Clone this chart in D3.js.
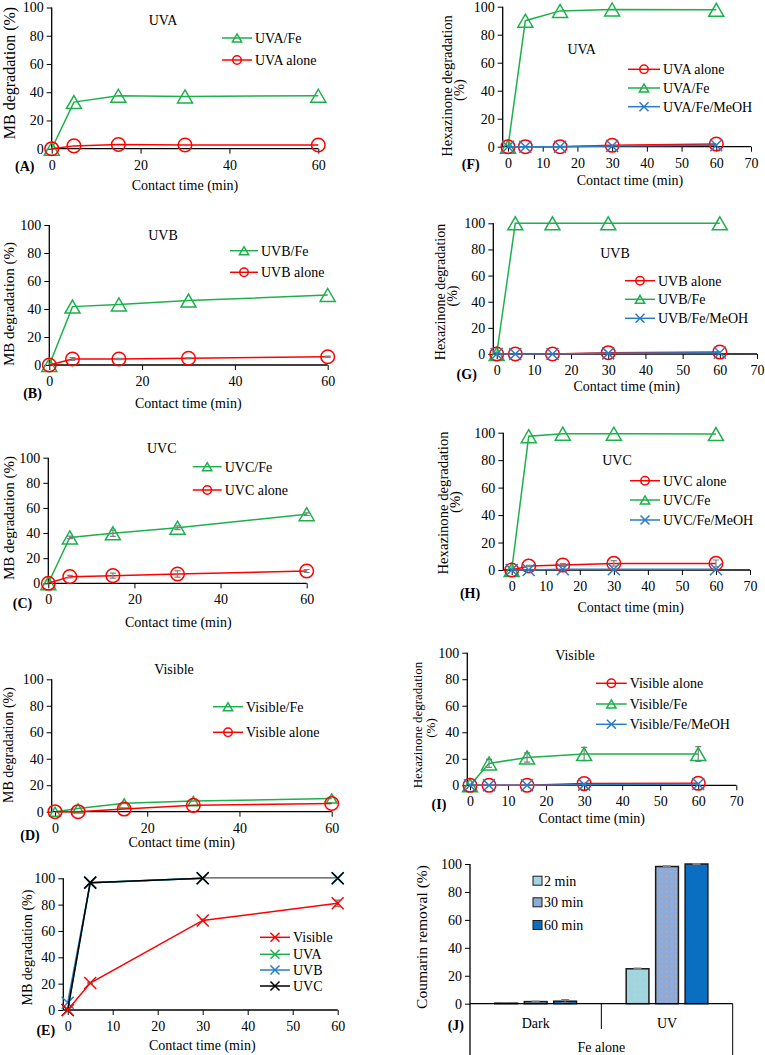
<!DOCTYPE html>
<html><head><meta charset="utf-8">
<script src="https://cdn.jsdelivr.net/npm/d3@7"></script>
<style>
body{margin:0;background:#fff}
svg{display:block}
text{font-family:"Liberation Serif","Times New Roman",serif;fill:#000}
</style>
</head><body>
<svg id="c" width="765" height="1055"></svg>
<script>
// ---------------- DATA ----------------
const timesMB = [0, 5, 15, 30, 60];
const timesHex = [0, 5, 15, 30, 60];
const timesE = [0, 5, 30, 60];
const yTickVals = [0, 20, 40, 60, 80, 100];
const xTicks60 = [0, 20, 40, 60];
const xTicks70 = [0, 10, 20, 30, 40, 50, 60, 70];
const xTicksE = [0, 10, 20, 30, 40, 50, 60];

// (A) MB, UVA
const A_uvaFe = [0, 33, 37.5, 37, 37.5];
const A_uvaAlone = [0, 2, 3, 2.6, 2.6];
// (B) MB, UVB
const B_uvbFe = [0, 41.7, 43.3, 46, 50];
const B_uvbAlone = [0, 4.3, 4.3, 4.8, 5.9];
const B_uvbAloneErr = [0, 1, 0.5, 0.5, 0.5];
// (C) MB, UVC
const C_uvcFe = [0, 36.5, 39.8, 44.3, 55];
const C_uvcFeErr = [0, 1, 2.5, 1.5, 1];
const C_uvcAlone = [0, 5.3, 6.1, 7.4, 9.8];
const C_uvcAloneErr = [0, 1, 2, 2.5, 1.2];
// (D) MB, Visible
const D_visFe = [0, 2.5, 6.3, 8, 10];
const D_visAlone = [0, 0, 2, 4.8, 6.2];
// (E) MB, photocatalysis under light types
const E_visible = [0, 20.5, 68, 81];
const E_visibleErr = [0, 0.5, 1, 2.5];
const E_uva = [0, 96.7, 100, 100];
const E_uvb = [5.5, 96.7, 100, 100];
const E_uvc = [0, 96.7, 100, 100];
// (F) Hexazinone, UVA
const F_alone = [0, 0, 0, 1, 1.9];
const F_fe = [0, 90, 97, 98, 97.8];
const F_meoh = [0, 0, 0, 0.5, 1];
// (G) Hexazinone, UVB
const G_alone = [0, 0, 0, 1, 1.5];
const G_fe = [0, 100, 100, 100, 100];
const G_meoh = [0, 0, 0, 0.5, 1];
// (H) Hexazinone, UVC
const H_alone = [0, 2.9, 3.6, 4.8, 4.8];
const H_aloneErr = [0, 0.5, 1, 2, 2.5];
const H_fe = [0, 97.5, 99.3, 99.3, 99];
const H_meoh = [0, 0, 0.5, 0.5, 0.5];
// (I) Hexazinone, Visible
const I_alone = [0, 0, 0, 1.3, 1.5];
const I_fe = [0, 16.5, 21, 23.6, 23.6];
const I_feErr = [0, 3, 3.5, 5, 5.5];
const I_meoh = [0, 0, 0, 0.5, 1];
// (J) Coumarin removal, Fe alone
const J_groups = ["Dark", "UV"];
const J_series = ["2 min", "30 min", "60 min"];
const J_dark = [0.4, 1.5, 1.8];
const J_darkErr = [0.2, 0.3, 1.2];
const J_uv = [25, 98.2, 100];
const J_uvErr = [0.5, 0.4, 0.2];

// ---------------- STYLE ----------------
const GREEN = "#1db04c", RED = "#ff0000", BLUE = "#2a7cc4", BLACK = "#000", ERR = "#808080";
const FONT = "'Liberation Serif','Times New Roman',serif";

const svg = d3.select("#c");
const defs = svg.append("defs");
const p30 = defs.append("pattern").attr("id", "dots30").attr("width", 5).attr("height", 5).attr("patternUnits", "userSpaceOnUse");
p30.append("rect").attr("width", 5).attr("height", 5).attr("fill", "#8faad6");
p30.append("circle").attr("cx", 1.5).attr("cy", 1.5).attr("r", 0.55).attr("fill", "#c8b48a");
const p2 = defs.append("pattern").attr("id", "dots2").attr("width", 6).attr("height", 6).attr("patternUnits", "userSpaceOnUse");
p2.append("rect").attr("width", 6).attr("height", 6).attr("fill", "#a2d5e0");
p2.append("circle").attr("cx", 2).attr("cy", 2).attr("r", 0.5).attr("fill", "#8ccf9a");

function drawMarker(g, type, cx, cy, s, color) {
  if (type === "tri") {
    const w = 15 * s, h = 13 * s;
    g.append("path").attr("d", `M${cx},${cy - h / 2}L${cx + w / 2},${cy + h / 2}L${cx - w / 2},${cy + h / 2}Z`)
      .attr("fill", "none").attr("stroke", color).attr("stroke-width", 1.5);
  } else if (type === "circ") {
    g.append("circle").attr("cx", cx).attr("cy", cy).attr("r", 6.8 * s)
      .attr("fill", "none").attr("stroke", color).attr("stroke-width", 1.5);
  } else {
    const a = 6 * s;
    g.append("path").attr("d", `M${cx - a},${cy - a}L${cx + a},${cy + a}M${cx - a},${cy + a}L${cx + a},${cy - a}`)
      .attr("fill", "none").attr("stroke", color).attr("stroke-width", 1.5);
  }
}

function addText(txt, x, y, opts = {}) {
  const t = svg.append("text").attr("x", x).attr("y", y).attr("dy", "0.35em")
    .attr("text-anchor", opts.anchor || "middle").attr("font-size", opts.size || 14)
    .text(txt);
  if (opts.bold) t.attr("font-weight", "bold");
  return t;
}
function addVText(txt, cx, cy, size) {
  svg.append("text").attr("transform", `translate(${cx},${cy}) rotate(-90)`).attr("dy", "0.35em")
    .attr("text-anchor", "middle").attr("font-size", size).text(txt);
}

function styleAxis(ax) {
  ax.attr("font-family", FONT).attr("font-size", 14);
  ax.select(".domain").remove();
  ax.selectAll(".tick line").attr("stroke", "#000").attr("stroke-width", 1);
  ax.selectAll(".tick text").attr("fill", "#000");
}

function linePanel(p) {
  const g = svg.append("g");
  const x = d3.scaleLinear().domain([0, p.xMax]).range([p.x0, p.x1]);
  const y = d3.scaleLinear().domain([0, 100]).range([p.yBot, p.yTop]);
  const xa = g.append("g").attr("transform", `translate(0,${y(0)})`)
    .call(d3.axisBottom(x).tickValues(p.xTicks).tickSize(5).tickSizeOuter(0).tickPadding(6).tickFormat(d3.format("d")));
  styleAxis(xa);
  const ya = g.append("g").attr("transform", `translate(${p.axisX},0)`)
    .call(d3.axisLeft(y).tickValues(yTickVals).tickSize(5).tickSizeOuter(0).tickPadding(3));
  styleAxis(ya);
  g.append("line").attr("x1", p.axisX).attr("x2", p.axisX).attr("y1", y(0)).attr("y2", y(100)).attr("stroke", "#000").attr("stroke-width", 1.3);
  g.append("line").attr("x1", p.axisX).attr("x2", p.x1).attr("y1", y(0)).attr("y2", y(0)).attr("stroke", "#000").attr("stroke-width", 1.3);

  const order = p.drawOrder || p.series.map((d, i) => i);
  order.forEach(si => {
    const s = p.series[si];
    const idx = s.vals.map((d, i) => i);
    const line = d3.line().x(i => x(p.times[i])).y(i => y(s.vals[i]));
    g.append("path").attr("d", line(idx)).attr("fill", "none").attr("stroke", s.color).attr("stroke-width", 1.5);
    if (s.tailColor) {
      const n = idx.length;
      g.append("path").attr("d", line(idx.slice(n - 2))).attr("fill", "none").attr("stroke", s.tailColor).attr("stroke-width", 1.5);
    }
    if (s.err) {
      idx.forEach(i => {
        const e = s.err[i];
        if (!e) return;
        const cx = x(p.times[i]);
        g.append("path").attr("d", `M${cx},${y(s.vals[i] - e)}V${y(s.vals[i] + e)}M${cx - 3},${y(s.vals[i] - e)}H${cx + 3}M${cx - 3},${y(s.vals[i] + e)}H${cx + 3}`)
          .attr("stroke", ERR).attr("stroke-width", 1.2).attr("fill", "none");
      });
    }
    idx.forEach(i => drawMarker(g, s.marker, x(p.times[i]), y(s.vals[i]), s.size || 1, s.color));
  });

  // legend
  p.series.forEach((s, i) => {
    const ly = p.legY[i];
    g.append("line").attr("x1", p.legX1).attr("x2", p.legX2).attr("y1", ly).attr("y2", ly).attr("stroke", s.color).attr("stroke-width", 1.5);
    drawMarker(g, s.marker, (p.legX1 + p.legX2) / 2, ly, s.marker === "x" ? 0.75 : 0.62, s.color);
    addText(s.name, p.legX2 + 3, ly, { anchor: "start" });
  });

  if (p.title) addText(p.title[0], p.title[1], p.title[2]);
  addText(p.letter[0], p.letter[1], p.letter[2], { bold: true });
  addText("Contact time (min)", p.xlab[0], p.xlab[1]);
  p.ylab.forEach(l => addVText(l[0], l[1], l[2], l[3]));
}

// ---------------- PANELS ----------------
const mbLab = "MB degradation (%)";
linePanel({
  times: timesMB, xMax: 60, xTicks: xTicks60, axisX: 51.7, x0: 51.7, x1: 318.3, yTop: 7.5, yBot: 148.7,
  series: [
    { name: "UVA/Fe", vals: A_uvaFe, marker: "tri", color: GREEN },
    { name: "UVA alone", vals: A_uvaAlone, marker: "circ", color: RED }
  ],
  legX1: 222, legX2: 252, legY: [38, 60],
  title: ["UVA", 163, 20], letter: ["(A)", 24.7, 166], xlab: [185, 185],
  ylab: [[mbLab, 9, 73, 16]]
});
linePanel({
  times: timesMB, xMax: 60, xTicks: xTicks60, axisX: 49.3, x0: 49.3, x1: 327.7, yTop: 225, yBot: 365,
  series: [
    { name: "UVB/Fe", vals: B_uvbFe, marker: "tri", color: GREEN },
    { name: "UVB alone", vals: B_uvbAlone, err: B_uvbAloneErr, marker: "circ", color: RED }
  ],
  legX1: 230, legX2: 258, legY: [250.7, 272.3],
  title: ["UVB", 163, 235], letter: ["(B)", 32.5, 392.7], xlab: [188.3, 402.7],
  ylab: [[mbLab, 9, 304, 15]]
});
linePanel({
  times: timesMB, xMax: 60, xTicks: xTicks60, axisX: 48.3, x0: 48.3, x1: 306.7, yTop: 457.7, yBot: 583.3,
  series: [
    { name: "UVC/Fe", vals: C_uvcFe, err: C_uvcFeErr, marker: "tri", color: GREEN },
    { name: "UVC alone", vals: C_uvcAlone, err: C_uvcAloneErr, marker: "circ", color: RED }
  ],
  legX1: 192.7, legX2: 221.7, legY: [466.7, 490],
  title: ["UVC", 161.7, 448.3], letter: ["(C)", 22.5, 603.3], xlab: [178.3, 621.7],
  ylab: [[mbLab, 8.5, 518, 15]]
});
linePanel({
  times: timesMB, xMax: 60, xTicks: xTicks60, axisX: 51.7, x0: 55, x1: 331.7, yTop: 679.3, yBot: 811.7,
  series: [
    { name: "Visible/Fe", vals: D_visFe, marker: "tri", color: GREEN, size: 0.7 },
    { name: "Visible alone", vals: D_visAlone, marker: "circ", color: RED }
  ],
  legX1: 213, legX2: 243, legY: [706.7, 732.3],
  title: ["Visible", 174, 669.3], letter: ["(D)", 30, 835], xlab: [181.7, 841.7],
  ylab: [[mbLab, 8.5, 745, 14]]
});
linePanel({
  times: timesE, xMax: 60, xTicks: xTicksE, axisX: 63.3, x0: 67.7, x1: 337.7, yTop: 878.3, yBot: 1010,
  series: [
    { name: "Visible", vals: E_visible, err: E_visibleErr, marker: "x", color: RED },
    { name: "UVA", vals: E_uva, marker: "x", color: GREEN, size: 0.6 },
    { name: "UVB", vals: E_uvb, marker: "x", color: BLUE },
    { name: "UVC", vals: E_uvc, marker: "x", color: BLACK, tailColor: "#a6a6a6" }
  ],
  drawOrder: [1, 2, 3, 0],
  legX1: 260, legX2: 290, legY: [937.3, 954.3, 970, 986],
  title: null, letter: ["(E)", 45.8, 1030], xlab: [202.3, 1045],
  ylab: [[mbLab, 26.7, 947.5, 14]]
});

const hexLab = "Hexazinone degradation";
linePanel({
  times: timesHex, xMax: 70, xTicks: xTicks70, axisX: 502.7, x0: 508, x1: 751, yTop: 6.7, yBot: 146.7,
  series: [
    { name: "UVA alone", vals: F_alone, marker: "circ", color: RED },
    { name: "UVA/Fe", vals: F_fe, marker: "tri", color: GREEN },
    { name: "UVA/Fe/MeOH", vals: F_meoh, marker: "x", color: BLUE }
  ],
  drawOrder: [1, 0, 2],
  legX1: 628, legX2: 660, legY: [69.3, 88, 106.7],
  title: ["UVA", 581.7, 49], letter: ["(F)", 470.8, 164.3], xlab: [630, 180],
  ylab: [[hexLab, 447.2, 86, 14.5], ["(%)", 458.7, 90, 14.5]]
});
linePanel({
  times: timesHex, xMax: 70, xTicks: xTicks70, axisX: 493.3, x0: 496.7, x1: 757, yTop: 223.3, yBot: 354,
  series: [
    { name: "UVB alone", vals: G_alone, marker: "circ", color: RED },
    { name: "UVB/Fe", vals: G_fe, marker: "tri", color: GREEN },
    { name: "UVB/Fe/MeOH", vals: G_meoh, marker: "x", color: BLUE }
  ],
  drawOrder: [1, 0, 2],
  legX1: 625, legX2: 655, legY: [280.7, 299.3, 318.3],
  title: ["UVB", 615, 252.7], letter: ["(G)", 466.7, 374.3], xlab: [626.7, 386],
  ylab: [[hexLab, 440.5, 292, 14], ["(%)", 451.7, 296, 14]]
});
linePanel({
  times: timesHex, xMax: 70, xTicks: xTicks70, axisX: 503.3, x0: 511.7, x1: 750, yTop: 432.7, yBot: 570,
  series: [
    { name: "UVC alone", vals: H_alone, err: H_aloneErr, marker: "circ", color: RED },
    { name: "UVC/Fe", vals: H_fe, marker: "tri", color: GREEN },
    { name: "UVC/Fe/MeOH", vals: H_meoh, marker: "x", color: BLUE }
  ],
  drawOrder: [1, 0, 2],
  legX1: 630, legX2: 660, legY: [480.7, 500, 520],
  title: ["UVC", 617, 460], letter: ["(H)", 470, 593.3], xlab: [630.7, 606.7],
  ylab: [[hexLab, 442.5, 503, 14.7], ["(%)", 455, 502, 14.7]]
});
linePanel({
  times: timesHex, xMax: 70, xTicks: xTicks70, axisX: 467.3, x0: 470, x1: 736.3, yTop: 652.7, yBot: 785.3,
  series: [
    { name: "Visible alone", vals: I_alone, marker: "circ", color: RED },
    { name: "Visible/Fe", vals: I_fe, err: I_feErr, marker: "tri", color: GREEN },
    { name: "Visible/Fe/MeOH", vals: I_meoh, marker: "x", color: BLUE }
  ],
  drawOrder: [1, 0, 2],
  legX1: 596, legX2: 626.7, legY: [683.3, 704, 724.3],
  title: ["Visible", 575, 655], letter: ["(I)", 439, 804], xlab: [591.7, 817.7],
  ylab: [[hexLab, 417.2, 725, 13], ["(%)", 430, 728, 13]]
});

// ---------------- (J) bar chart ----------------
(function () {
  const g = svg.append("g");
  const left = 470, right = 732.7, yTop = 864, yBot = 1003.7;
  const y = d3.scaleLinear().domain([0, 100]).range([yBot, yTop]);
  const x0 = d3.scaleBand().domain(J_groups).range([left, right]).padding(0);
  const x1 = d3.scaleBand().domain(J_series).range([0, x0.bandwidth()]).paddingInner(0.228).paddingOuter(0.842);
  const fills = ["url(#dots2)", "url(#dots30)", "#0b6fc1"];
  const legendFills = ["#a2d5e0", "#8faad6", "#0b6fc1"];
  const groupVals = { "Dark": J_dark, "UV": J_uv };
  const groupErr = { "Dark": J_darkErr, "UV": J_uvErr };

  const ya = g.append("g").attr("transform", `translate(${left},0)`)
    .call(d3.axisLeft(y).tickValues(yTickVals).tickSize(5).tickSizeOuter(0).tickPadding(3));
  styleAxis(ya);

  J_groups.forEach(gr => {
    J_series.forEach((s, i) => {
      const v = groupVals[gr][i];
      const bx = x0(gr) + x1(s);
      g.append("rect").attr("x", bx).attr("y", y(v)).attr("width", x1.bandwidth()).attr("height", y(0) - y(v))
        .attr("fill", fills[i]).attr("stroke", "#1a1a1a").attr("stroke-width", 1.5);
      const e = groupErr[gr][i];
      const cx = bx + x1.bandwidth() / 2;
      g.append("path").attr("d", `M${cx},${y(v - e)}V${y(v + e)}M${cx - 4},${y(v + e)}H${cx + 4}M${cx - 4},${y(v - e)}H${cx + 4}`)
        .attr("stroke", ERR).attr("stroke-width", 1.2).attr("fill", "none");
    });
    addText(gr, x0(gr) + x0.bandwidth() / 2, 1022.7, { size: 14 });
  });
  // axes lines
  g.append("line").attr("x1", left).attr("x2", left).attr("y1", y(100)).attr("y2", 1055).attr("stroke", "#000").attr("stroke-width", 1.3);
  g.append("line").attr("x1", left).attr("x2", right).attr("y1", y(0)).attr("y2", y(0)).attr("stroke", "#000").attr("stroke-width", 1.3);
  g.append("line").attr("x1", x0("UV")).attr("x2", x0("UV")).attr("y1", y(0)).attr("y2", 1029).attr("stroke", "#000").attr("stroke-width", 1);
  g.append("line").attr("x1", right).attr("x2", right).attr("y1", y(0)).attr("y2", 1055).attr("stroke", "#000").attr("stroke-width", 1);

  addText("Fe alone", (left + right) / 2, 1046.7, { size: 14 });
  addText("(J)", 455.8, 1025, { bold: true });
  addVText("Coumarin removal (%)", 421.3, 937, 15.5);

  const legY = [880.7, 902.3, 925];
  J_series.forEach((s, i) => {
    g.append("rect").attr("x", 533).attr("y", legY[i] - 4.5).attr("width", 9).attr("height", 9)
      .attr("fill", legendFills[i]).attr("stroke", "#1a1a1a").attr("stroke-width", 1);
    addText(s, 544, legY[i], { anchor: "start" });
  });
})();
</script>
</body></html>
